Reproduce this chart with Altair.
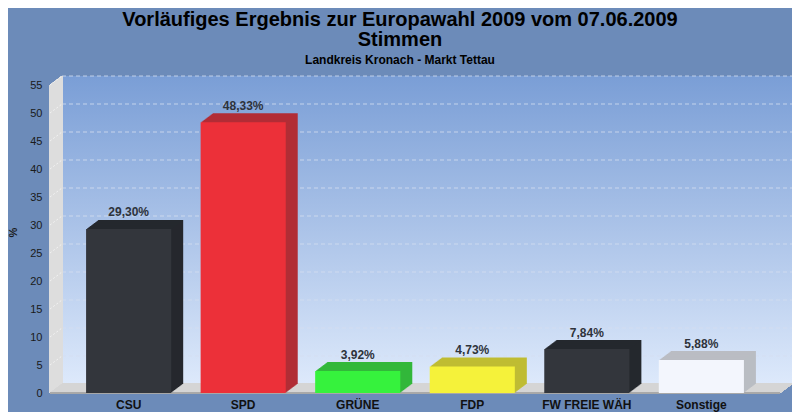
import altair as alt
import pandas as pd

# ---------------- data ----------------
parties = ["CSU", "SPD", "GRÜNE", "FDP", "FW FREIE WÄH", "Sonstige"]
values = [29.30, 48.33, 3.92, 4.73, 7.84, 5.88]
front_colors = ["#33363c", "#ec3039", "#36f23d", "#f5f23a", "#33363c", "#f3f6fd"]
side_colors = ["#25282e", "#b22d36", "#33b83b", "#bfbd33", "#25282e", "#babdc3"]
ticks = [0, 5, 10, 15, 20, 25, 30, 35, 40, 45, 50, 55]

# ---------------- geometry / style ----------------
PX = 5.6            # pixels per percent
H = 318             # view height
W = 742             # view width (incl. back wall depth)
FRONT_W = 730
DX, DY = 12, 9      # 3D depth offset
YMAX = H / PX
FONT = "Liberation Sans"

df = pd.DataFrame({
    "party": parties,
    "value": values,
    "front": front_colors,
    "side": side_colors,
    "label": [f"{v:.2f}".replace(".", ",") + "%" for v in values],
})
tick_df = pd.DataFrame({"v": ticks})
tick_df["vb"] = tick_df["v"] + DY / PX
grid_df = tick_df[tick_df["v"] > 0]

y_scale = alt.Scale(domain=[0, YMAX], nice=False, zero=True)
y_axis = alt.Axis(
    values=ticks, title="%", grid=False, domain=False, ticks=False,
    labelFont=FONT, labelFontSize=11, labelColor="#1a1a1a", labelPadding=8,
    titleFont=FONT, titleFontSize=11, titleFontWeight="bold", titleColor="#1a1a1a",
    titleX=-32, titleY=157, titleAngle=-90,
)
x_scale = alt.Scale(range=[0, FRONT_W], paddingInner=0.257, paddingOuter=0.315)
x_axis = alt.Axis(
    title=None, labelAngle=0, domain=False, ticks=False, grid=False,
    labelFont=FONT, labelFontSize=12, labelFontWeight="bold", labelColor="#111111",
    labelPadding=6,
)


def off(dx, dy):
    return dict(xOffset=dx, x2Offset=dx, yOffset=dy, y2Offset=dy)


def yd(v):
    return alt.YDatum(v, scale=y_scale, axis=y_axis)


layers = []

# back wall with gradient
layers.append(
    alt.Chart(df).mark_rect(
        fill=alt.Gradient(
            gradient="linear", x1=0, y1=0, x2=0, y2=1,
            stops=[alt.GradientStop(offset=0, color="#7a9ed6"),
                   alt.GradientStop(offset=1, color="#dde9fb")],
        ),
        **off(0, -DY),
    ).encode(x=alt.value(DX), x2=alt.value(W), y=yd(55), y2=alt.Y2Datum(0))
)

# back-wall dashed grid lines
layers.append(
    alt.Chart(grid_df).mark_rule(
        color="#d4def0", strokeDash=[4, 3], strokeWidth=1, opacity=0.8, yOffset=-DY
    ).encode(
        x=alt.value(DX), x2=alt.value(W),
        y=alt.Y("v:Q", scale=y_scale, axis=y_axis),
    )
)

# left wall (extruded axis line)
for k in range(0, DX + 1):
    layers.append(
        alt.Chart(df).mark_rule(color="#dedede", strokeWidth=1.6, **off(k, -k * DY / DX)).encode(
            x=alt.value(0), y=yd(0), y2=alt.Y2Datum(55)
        )
    )

# left wall diagonal lines
layers.append(
    alt.Chart(grid_df).mark_rule(color="#f2f2f2", strokeWidth=1, strokeDash=[2, 2]).encode(
        x=alt.value(0), x2=alt.value(DX),
        y=alt.Y("v:Q", scale=y_scale, axis=y_axis), y2="vb:Q",
    )
)

# floor (extruded base line)
for k in range(0, DX + 1):
    layers.append(
        alt.Chart(df).mark_rule(color="#d5d5d5", strokeWidth=1.6, **off(k, -k * DY / DX)).encode(
            x=alt.value(0), x2=alt.value(FRONT_W), y=yd(0)
        )
    )
layers.append(
    alt.Chart(df).mark_rule(color="#a8a8a8", strokeWidth=1).encode(
        x=alt.value(0), x2=alt.value(FRONT_W), y=yd(0)
    )
)

# bar depth (side + top)
for k in range(DX, 0, -1):
    layers.append(
        alt.Chart(df).mark_bar(**off(k, -k * DY / DX)).encode(
            x=alt.X("party:N", sort=parties, scale=x_scale, axis=x_axis),
            y=alt.Y("value:Q", scale=y_scale, axis=y_axis),
            fill=alt.Fill("side:N", scale=None),
        )
    )

# front faces
layers.append(
    alt.Chart(df).mark_bar().encode(
        x=alt.X("party:N", sort=parties, scale=x_scale, axis=x_axis),
        y=alt.Y("value:Q", scale=y_scale, axis=y_axis),
        fill=alt.Fill("front:N", scale=None),
    )
)

# value labels
layers.append(
    alt.Chart(df).mark_text(
        font=FONT, fontSize=12, fontWeight="bold", color="#2e333b",
        baseline="alphabetic", dy=-12.5,
    ).encode(
        x=alt.X("party:N", sort=parties, scale=x_scale, axis=x_axis),
        y=alt.Y("value:Q", scale=y_scale, axis=y_axis),
        text="label:N",
    )
)

chart = alt.layer(*layers).properties(
    width=W, height=H,
    autosize=alt.AutoSizeParams(type="none"),
    padding={"left": 42, "top": 67, "right": 0, "bottom": 19},
    background="#6c8bb9",
    title=alt.TitleParams(
        text=["Vorläufiges Ergebnis zur Europawahl 2009 vom 07.06.2009", "Stimmen"],
        subtitle="Landkreis Kronach - Markt Tettau",
        font=FONT, fontSize=20, fontWeight="bold", color="#000000", lineHeight=20,
        subtitleFont=FONT, subtitleFontSize=12, subtitleFontWeight="bold",
        subtitleColor="#000000", subtitlePadding=5,
        anchor="middle", dx=-21, offset=9,
    ),
).configure_view(stroke=None, fill=None)

chart.save("out.html", embed_options={"renderer": "svg", "actions": False})
